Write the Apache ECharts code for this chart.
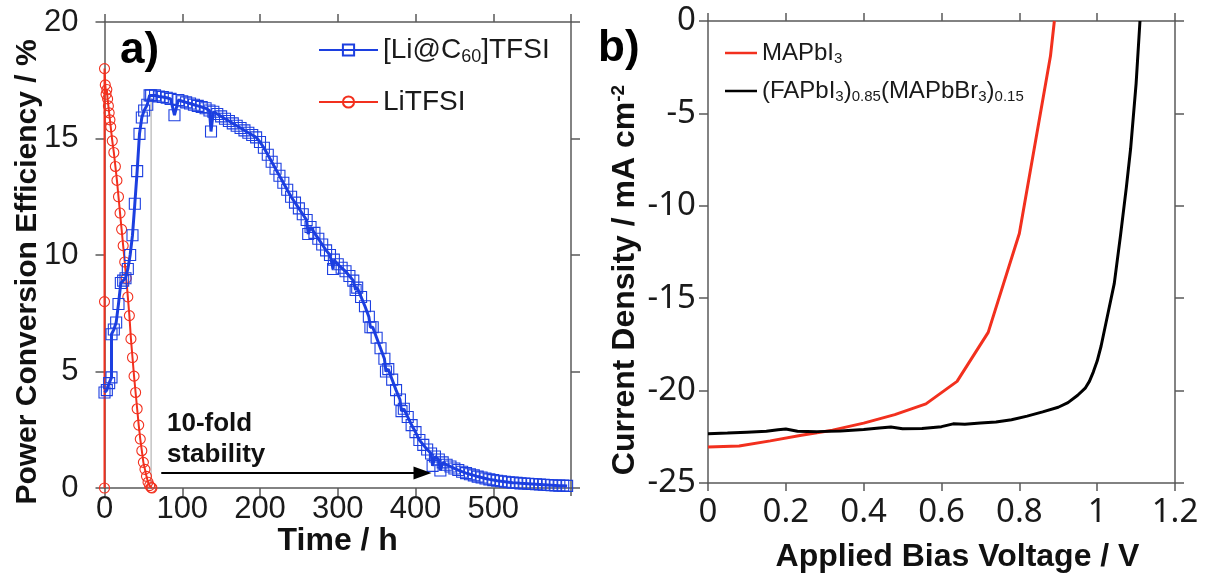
<!DOCTYPE html>
<html><head><meta charset="utf-8">
<script src="https://cdn.jsdelivr.net/npm/echarts@6/dist/echarts.min.js"></script>
<style>html,body{margin:0;padding:0;background:#fff}#c{width:1214px;height:578px}</style>
</head><body><div id="c"></div>
<script>
// ---------- Data: panel a) PCE vs time ----------
const liC60Data = [
  [0,4.1],[3,4.2],[6,4.5],[9,4.75],[9,6.6],[12,6.8],[15,7.1],[18,7.9],[21,8.8],[24,8.9],[27,9.0],[30,9.4],
  [33,10.0],[36,10.85],[39,12.2],[42,13.6],[45,15.2],[48,15.9],[51,16.2],[55,16.45],[58,16.85],
  [60,16.85],[65,16.85],[70,16.8],[75,16.78],[80,16.75],[85,16.7],[90,16.0],[95,16.65],[100,16.6],
  [105,16.55],[110,16.5],[115,16.45],[120,16.4],[125,16.35],[130,16.3],[135,16.2],[137,15.3],[140,16.15],
  [145,16.05],[150,15.95],[155,15.85],[160,15.75],[165,15.65],[170,15.55],[175,15.45],[180,15.35],
  [185,15.25],[190,15.15],[195,15.05],[200,14.85],[205,14.6],[210,14.3],[215,14.0],[220,13.7],[225,13.4],
  [230,13.1],[235,12.8],[240,12.5],[245,12.25],[250,12.0],[255,11.75],[260,11.5],[262,10.9],[265,11.2],
  [270,10.95],[275,10.7],[280,10.45],[285,10.2],[290,10.0],[294,9.4],[295,9.8],[300,9.6],[305,9.45],
  [310,9.3],[315,9.1],[320,8.9],[323,8.5],[325,8.6],[330,8.2],[335,7.8],[340,7.35],[342,6.9],[345,6.9],
  [350,6.45],[355,6.0],[360,5.55],[362,5.0],[365,5.1],[370,4.65],[375,4.2],[380,3.8],[382,3.3],[385,3.4],
  [390,3.05],[395,2.7],[400,2.4],[405,2.06],[410,1.85],[415,1.65],[420,1.48],[422,0.95],[425,1.35],
  [430,1.22],[432,0.75],[435,1.1],[440,1.0],[445,0.92],[450,0.84],[455,0.77],[460,0.7],[465,0.64],
  [470,0.59],[475,0.54],[480,0.49],[485,0.45],[490,0.41],[495,0.37],[500,0.34],[505,0.31],[510,0.29],
  [515,0.27],[520,0.25],[525,0.23],[530,0.22],[535,0.2],[540,0.19],[545,0.18],[550,0.17],[555,0.16],
  [560,0.15],[565,0.14],[570,0.13],[575,0.12],[580,0.11],[585,0.1],[590,0.1],[595,0.09]
];
const liTFSIData = [
  [0,0],[0,8],[0,18],[1,17.3],[2,16.9],[3,17.1],[4,16.7],[5,16.4],[6,16.1],[7,15.8],[8,15.5],[10,14.9],
  [12,14.4],[14,13.8],[16,13.2],[18,12.5],[20,11.8],[22,11.1],[24,10.4],[26,9.7],[28,9.0],[30,8.2],
  [32,7.4],[34,6.4],[36,5.6],[38,4.8],[40,4.1],[42,3.4],[44,2.7],[46,2.1],[48,1.6],[50,1.1],[52,0.8],
  [54,0.5],[56,0.25],[58,0.1],[60,0.02],[61,0]
];
const gapLine = [[60,0],[60,16.75]];
const arrowStart = [73,0.64];
const arrowEnd = [409,0.64];
const timeRange = [0,600,100];
const pceRange = [0,20,5];

// ---------- Data: panel b) J-V ----------
const mapbi3Data = [
  [0,-23.05],[0.08,-23.0],[0.16,-22.72],[0.24,-22.42],[0.32,-22.14],[0.40,-21.76],[0.48,-21.3],
  [0.56,-20.72],[0.64,-19.5],[0.72,-16.85],[0.80,-11.5],[0.88,-1.9],[0.89,0]
];
const mixedData = [
  [0,-22.34],[0.05,-22.3],[0.1,-22.25],[0.15,-22.2],[0.18,-22.12],[0.2,-22.08],[0.23,-22.2],[0.28,-22.22],
  [0.34,-22.18],[0.4,-22.1],[0.44,-22.02],[0.47,-21.97],[0.5,-22.06],[0.55,-22.05],[0.6,-21.95],
  [0.63,-21.8],[0.66,-21.82],[0.7,-21.75],[0.74,-21.7],[0.78,-21.58],[0.82,-21.38],[0.86,-21.15],
  [0.9,-20.9],[0.925,-20.65],[0.95,-20.25],[0.97,-19.85],[0.98,-19.5],[0.99,-19.0],[1.0,-18.4],
  [1.01,-17.6],[1.02,-16.6],[1.03,-15.6],[1.044,-14.2],[1.06,-11.6],[1.075,-9.0],[1.086,-6.9],
  [1.1,-3.4],[1.11,0]
];
const voltRange = [0,1.2,0.2];
const jRange = [-25,0,5];

const legendLabels = {
  '[Li@C60]TFSI': '[Li@C{sub|60}]TFSI',
  'LiTFSI': 'LiTFSI',
  'MAPbI3': 'MAPbI{sub|3}',
  '(FAPbI3)0.85(MAPbBr3)0.15': '(FAPbI{sub|3}){sub|0.85}(MAPbBr{sub|3}){sub|0.15}'
};

const BLUE = '#1c3fe0', RED = '#f2301e', AX = '#5a5a5a';
const SANS = 'Liberation Sans', RF = 'Noto Sans';

function xAx(grid, r, pos, font, size, margin, labelFmt, name, nameGap, nameSize, pad) {
  return {
    gridIndex: grid, type: 'value', min: r[0], max: r[1], interval: r[2], position: pos,
    axisLine: {show: true, onZero: false, lineStyle: {color: AX, width: 1.5}},
    axisTick: {show: true, inside: false, length: 8, lineStyle: {color: AX, width: 1.5}},
    axisLabel: pos === 'top' ? {show: false} : {show: true, fontFamily: font, fontSize: size, color: '#1a1a1a', margin: margin, formatter: labelFmt, showMaxLabel: true, showMinLabel: true},
    splitLine: {show: false},
    name: pos === 'top' ? '' : name, nameLocation: 'middle', nameGap: nameGap, nameMoveOverlap: false,
    nameTextStyle: {fontFamily: SANS, fontWeight: 'bold', fontSize: nameSize || 30, color: '#111', padding: pad || 0}
  };
}
function yAx(grid, r, pos, font, size, margin, name, nameGap, nameSize, pad, rich) {
  return {
    gridIndex: grid, type: 'value', min: r[0], max: r[1], interval: r[2], position: pos,
    axisLine: {show: true, onZero: false, lineStyle: {color: AX, width: 1.5}},
    axisTick: {show: true, inside: false, length: 9, lineStyle: {color: AX, width: 1.5}},
    axisLabel: pos === 'right' ? {show: false} : {show: true, fontFamily: font, fontSize: size, color: '#1a1a1a', margin: margin},
    splitLine: {show: false},
    name: pos === 'right' ? '' : name, nameLocation: 'middle', nameGap: nameGap, nameRotate: 90, nameMoveOverlap: false,
    nameTextStyle: {fontFamily: SANS, fontWeight: 'bold', fontSize: nameSize || 30, color: '#111', padding: pad || 0, rich: rich || {}}
  };
}

const chart = echarts.init(document.getElementById('c'), null, {renderer: 'canvas'});
const legendBase = (name, left, top, w, h, fs, subfs, subpad, icon) => {
  const o = {
    data: [name], left: left, top: top, padding: 0, itemWidth: w, itemHeight: h, selectedMode: false,
    orient: 'vertical',
    formatter: n => legendLabels[n],
    textStyle: {fontFamily: SANS, fontSize: fs, color: '#1a1a1a',
      rich: {sub: {fontFamily: SANS, fontSize: subfs, color: '#1a1a1a', padding: [subpad, 0, 0, 0]}}}
  };
  if (icon) o.icon = icon;
  return o;
};

chart.setOption({
  animation: false,
  backgroundColor: '#fff',
  grid: [
    {left: 104.5, top: 22, width: 466.5, height: 466},
    {left: 708, top: 21, width: 467, height: 467}
  ],
  xAxis: [
    xAx(0, timeRange, 'bottom', SANS, 31, 6, v => (v === 600 ? '' : String(v)), 'Time / h', 37, 32),
    xAx(0, timeRange, 'top', SANS, 31, 6, null, '', 0),
    xAx(1, voltRange, 'bottom', RF, 33, 13, null, 'Applied Bias Voltage / V', 58, 32, [0, 0, 0, 32]),
    xAx(1, voltRange, 'top', RF, 33, 13, null, '', 0)
  ],
  yAxis: [
    yAx(0, pceRange, 'left', SANS, 31, 26, 'Power Conversion Efficiency / %', 62, 30, [0, 34, 0, 0]),
    yAx(0, pceRange, 'right', SANS, 31, 26, '', 0),
    yAx(1, jRange, 'left', RF, 33, 12, 'Current Density / mA cm{sup|-2}', 66, 32, [0, 56, 0, 0],
        {sup: {fontFamily: SANS, fontWeight: 'bold', fontSize: 19, color: '#111', padding: [0, 0, 14, 0]}}),
    yAx(1, jRange, 'right', RF, 33, 12, '', 0)
  ],
  legend: [
    legendBase('[Li@C60]TFSI', 318, 36, 59, 14, 28, 18, 14),
    legendBase('LiTFSI', 318, 88, 59, 14, 28, 18, 14),
    legendBase('MAPbI3', 725, 41, 32, 2.5, 24, 15, 12, 'rect'),
    legendBase('(FAPbI3)0.85(MAPbBr3)0.15', 725, 79, 32, 2.5, 24, 15, 12, 'rect')
  ],
  series: [
    {type: 'line', name: 'gap', xAxisIndex: 0, yAxisIndex: 0, data: gapLine, symbol: 'none',
     lineStyle: {color: '#c4c4c4', width: 1.5}, z: 1, silent: true},
    {type: 'line', name: 'LiTFSI', xAxisIndex: 0, yAxisIndex: 0, data: liTFSIData,
     symbol: 'circle', symbolSize: 10,
     itemStyle: {color: 'rgba(255,255,255,0)', borderColor: RED, borderWidth: 1.1},
     lineStyle: {color: RED, width: 2}, z: 2},
    {type: 'line', name: '[Li@C60]TFSI', xAxisIndex: 0, yAxisIndex: 0, data: liC60Data,
     symbol: 'rect', symbolSize: 11,
     itemStyle: {color: 'rgba(255,255,255,0)', borderColor: BLUE, borderWidth: 1.1},
     lineStyle: {color: BLUE, width: 3}, z: 3},
    {type: 'line', name: 'arrow', xAxisIndex: 0, yAxisIndex: 0, data: [], symbol: 'none',
     markLine: {silent: true, symbol: ['none', 'triangle'], symbolSize: [13, 18], label: {show: false},
       lineStyle: {color: '#000', width: 2, type: 'solid'},
       data: [[{coord: arrowStart}, {coord: arrowEnd}]]}, z: 4},
    {type: 'line', name: 'MAPbI3', xAxisIndex: 2, yAxisIndex: 2, data: mapbi3Data, symbol: 'none',
     itemStyle: {color: RED}, lineStyle: {color: RED, width: 3}},
    {type: 'line', name: '(FAPbI3)0.85(MAPbBr3)0.15', xAxisIndex: 2, yAxisIndex: 2, data: mixedData, symbol: 'none',
     itemStyle: {color: '#000'}, lineStyle: {color: '#000', width: 3}}
  ],
  graphic: [
    {type: 'text', left: 120, top: 29, style: {text: 'a)', font: 'bold 44px "Liberation Sans"', fill: '#000'}},
    {type: 'text', left: 598, top: 27, style: {text: 'b)', font: 'bold 44px "Liberation Sans"', fill: '#000'}},
    {type: 'text', left: 167, top: 408, style: {text: '10-fold\nstability', font: 'bold 26px "Liberation Sans"', lineHeight: 31, fill: '#111'}}
  ]
});
</script></body></html>
